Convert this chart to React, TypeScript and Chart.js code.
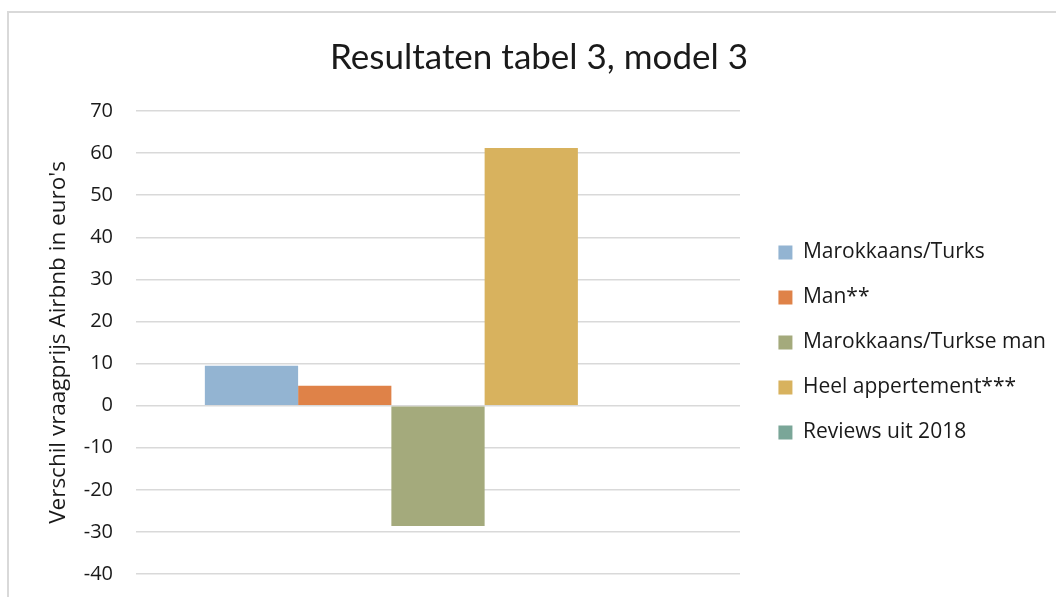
import React, { useEffect, useRef } from "react";
import { Chart, registerables } from "chart.js";

Chart.register(...registerables);

const categories: string[] = [""];
const seriesNames: string[] = [
  "Marokkaans/Turks",
  "Man**",
  "Marokkaans/Turkse man",
  "Heel appertement***",
  "Reviews uit 2018",
];
const marokkaansTurks: number[] = [9.5];
const man: number[] = [4.7];
const marokkaansTurkseMan: number[] = [-28.6];
const heelAppartement: number[] = [61.2];
const reviews2018: number[] = [0];
const seriesColors: string[] = ["#93B4D2", "#DF8248", "#A4AA7C", "#D8B25E", "#7AA698"];
const yMin = -40;
const yMax = 70;
const yStep = 10;
const chartTitle = "Resultaten tabel 3, model 3";
const yTitle = "Verschil vraagprijs Airbnb in euro's";

const TITLE_FONT = "Lato, 'Open Sans', sans-serif";
const FONT = "'Open Sans', Lato, sans-serif";
const TEXT = "#1a1a1a";
const LEGEND_SIZE = 21;
const LEGEND_PAD = 24;
const LEGEND_BOX = 14;
const RIGHT_SPACE = 316; // from plot right edge to canvas right edge

export default function App() {
  const ref = useRef<HTMLCanvasElement | null>(null);

  useEffect(() => {
    if (!ref.current) return;
    const values = [marokkaansTurks, man, marokkaansTurkseMan, heelAppartement, reviews2018];
    const chart = new Chart(ref.current, {
      type: "bar",
      data: {
        labels: categories,
        datasets: seriesNames.map((name, i) => ({
          label: name,
          data: values[i],
          backgroundColor: seriesColors[i],
          borderWidth: 0,
          yAxisID: "y",
          categoryPercentage: 0.772,
          barPercentage: 1.0,
        })),
      },
      options: {
        animation: false,
        responsive: false,
        devicePixelRatio: 1,
        layout: { padding: { left: 22, right: 0, top: 0, bottom: 23 } },
        plugins: {
          title: {
            display: true,
            text: chartTitle,
            color: TEXT,
            font: { family: TITLE_FONT, size: 35, weight: "normal", lineHeight: 1.2 },
            padding: { top: 37, bottom: 32 },
          },
          legend: {
            display: true,
            position: "right",
            align: "center",
            fullSize: false,
            maxWidth: 600,
            labels: {
              color: TEXT,
              font: { family: FONT, size: LEGEND_SIZE },
              boxWidth: LEGEND_BOX,
              boxHeight: LEGEND_BOX,
              padding: LEGEND_PAD,
            },
          },
          tooltip: { enabled: false },
        },
        scales: {
          y: {
            type: "linear",
            position: "left",
            min: yMin,
            max: yMax,
            ticks: {
              stepSize: yStep,
              color: TEXT,
              padding: 0,
              font: { family: FONT, size: 20 },
            },
            grid: {
              color: "#d9d9d9",
              lineWidth: 1.5,
              drawTicks: true,
              tickLength: 23,
              tickColor: "rgba(0,0,0,0)",
            },
            border: { display: false },
            title: {
              display: true,
              text: yTitle,
              color: TEXT,
              font: { family: FONT, size: 22.5, lineHeight: 1.2 },
              padding: { top: 23, bottom: 0 },
            },
            afterFit: (scale: any) => {
              scale.width = 114;
            },
          },
          gap: {
            type: "linear",
            position: "right",
            display: true,
            ticks: { display: false },
            grid: { display: false },
            border: { display: false },
            afterFit: (scale: any) => {
              const ctx = scale.ctx as CanvasRenderingContext2D;
              ctx.save();
              ctx.font = `normal normal ${LEGEND_SIZE}px ${FONT}`;
              let maxText = 0;
              seriesNames.forEach((n) => {
                maxText = Math.max(maxText, ctx.measureText(n).width);
              });
              ctx.restore();
              const legendWidth = LEGEND_PAD + LEGEND_BOX + LEGEND_SIZE / 2 + maxText + 10;
              scale.width = Math.max(0, RIGHT_SPACE - legendWidth);
            },
          },
          x: {
            type: "category",
            display: false,
          },
        },
      } as any,
    });
    return () => chart.destroy();
  }, []);

  return (
    <div
      style={{
        position: "fixed",
        left: 0,
        top: 0,
        width: 1056,
        height: 597,
        overflow: "hidden",
        background: "#ffffff",
      }}
    >
      <div
        style={{
          position: "absolute",
          left: 7,
          top: 11,
          width: 1200,
          height: 800,
          border: "2px solid #d9d9d9",
          boxSizing: "border-box",
        }}
      />
      <canvas
        ref={ref}
        width={1056}
        height={597}
        style={{ position: "absolute", left: 0, top: 0, width: 1056, height: 597 }}
      />
    </div>
  );
}
